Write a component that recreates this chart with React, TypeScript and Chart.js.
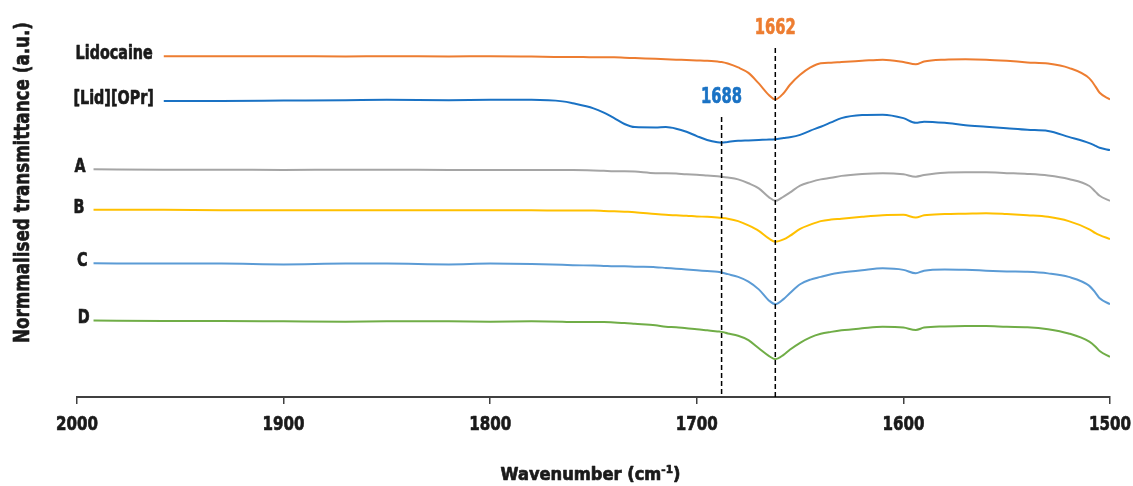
import React, { useEffect, useRef } from 'react';
import { Chart, registerables } from 'chart.js';

Chart.register(...registerables);

// Shared wavenumber grid (cm-1); series are null where a trace has not started yet.
const wavenumbers = [
  1992, 1958, 1930, 1900, 1870, 1850, 1820, 1800, 1780, 1765,
  1760, 1750, 1745, 1740, 1735, 1730, 1720, 1715, 1710, 1705,
  1700, 1695, 1690, 1688, 1685, 1680, 1675, 1670, 1665, 1662,
  1658, 1655, 1650, 1645, 1640, 1635, 1630, 1620, 1610, 1600,
  1594, 1590, 1580, 1570, 1560, 1550, 1540, 1530, 1520, 1510,
  1507, 1505, 1500,
];

// Stacked, normalised transmittance traces (a.u., offset for display)
const lidocaine = [
  null, 8.74, 8.74, 8.74, 8.73, 8.74, 8.73, 8.74, 8.73, 8.72,
  8.72, 8.71, 8.71, 8.71, 8.70, 8.69, 8.67, 8.66, 8.65, 8.64,
  8.63, 8.62, 8.60, 8.59, 8.55, 8.45, 8.31, 8.04, 7.74, 7.63,
  7.79, 8.00, 8.26, 8.45, 8.56, 8.57, 8.59, 8.62, 8.65, 8.59,
  8.53, 8.60, 8.65, 8.66, 8.65, 8.62, 8.58, 8.55, 8.44, 8.17,
  7.96, 7.80, 7.63,
];
const lidOPr = [
  null, 7.59, 7.59, 7.60, 7.61, 7.62, 7.61, 7.62, 7.62, 7.58,
  7.53, 7.40, 7.29, 7.15, 7.00, 6.92, 6.91, 6.92, 6.88, 6.80,
  6.69, 6.59, 6.53, 6.52, 6.54, 6.57, 6.58, 6.59, 6.60, 6.61,
  6.64, 6.66, 6.72, 6.83, 6.93, 7.04, 7.15, 7.23, 7.24, 7.15,
  7.03, 7.06, 7.03, 6.97, 6.93, 6.89, 6.85, 6.82, 6.67, 6.51,
  6.44, 6.39, 6.33,
];
const sampleA = [
  5.84, 5.83, 5.83, 5.82, 5.83, 5.83, 5.82, 5.82, 5.82, 5.82,
  5.82, 5.81, 5.80, 5.79, 5.79, 5.78, 5.74, 5.74, 5.73, 5.71,
  5.70, 5.68, 5.66, 5.65, 5.63, 5.58, 5.48, 5.35, 5.12, 5.03,
  5.14, 5.24, 5.42, 5.51, 5.58, 5.62, 5.67, 5.72, 5.74, 5.71,
  5.65, 5.69, 5.75, 5.76, 5.76, 5.74, 5.72, 5.68, 5.59, 5.41,
  5.26, 5.16, 5.03,
];
const sampleB = [
  4.80, 4.80, 4.79, 4.79, 4.79, 4.79, 4.79, 4.79, 4.79, 4.78,
  4.78, 4.78, 4.77, 4.76, 4.75, 4.74, 4.69, 4.67, 4.66, 4.65,
  4.63, 4.62, 4.60, 4.59, 4.57, 4.51, 4.40, 4.26, 4.06, 3.98,
  4.04, 4.13, 4.31, 4.42, 4.51, 4.55, 4.57, 4.62, 4.66, 4.67,
  4.60, 4.66, 4.69, 4.70, 4.71, 4.69, 4.66, 4.62, 4.51, 4.30,
  4.20, 4.15, 4.05,
];
const sampleC = [
  3.43, 3.42, 3.42, 3.40, 3.42, 3.42, 3.40, 3.42, 3.41, 3.39,
  3.38, 3.37, 3.36, 3.35, 3.35, 3.34, 3.33, 3.31, 3.29, 3.27,
  3.25, 3.23, 3.21, 3.19, 3.15, 3.08, 2.96, 2.76, 2.47, 2.38,
  2.51, 2.66, 2.89, 3.01, 3.08, 3.15, 3.19, 3.25, 3.30, 3.26,
  3.17, 3.24, 3.27, 3.26, 3.24, 3.22, 3.21, 3.17, 3.08, 2.85,
  2.67, 2.53, 2.38,
];
const sampleD = [
  1.96, 1.95, 1.95, 1.94, 1.93, 1.94, 1.94, 1.93, 1.94, 1.93,
  1.92, 1.92, 1.92, 1.91, 1.90, 1.88, 1.84, 1.80, 1.79, 1.76,
  1.74, 1.71, 1.68, 1.67, 1.63, 1.57, 1.46, 1.25, 1.05, 0.97,
  1.08, 1.21, 1.39, 1.53, 1.62, 1.67, 1.71, 1.76, 1.80, 1.78,
  1.72, 1.78, 1.81, 1.82, 1.82, 1.80, 1.79, 1.74, 1.63, 1.42,
  1.29, 1.18, 1.03,
];

const seriesNames = ['Lidocaine', '[Lid][OPr]', 'A', 'B', 'C', 'D'];
const seriesValues = [lidocaine, lidOPr, sampleA, sampleB, sampleC, sampleD];
const seriesColors = ['#ED7D31', '#1A72C4', '#A5A5A5', '#FFC000', '#5B9BD5', '#70AD47'];
const seriesLabelGaps = [11, 10, 8, 9, 6, 4];

// Band markers: wavenumber, top of the dashed guide (a.u.), tag colour
const markerWavenumbers = [1688, 1662];
const markerTops = [7.18, 8.95];
const markerColors = ['#1A72C4', '#ED7D31'];

// Axis settings
const xMin = 1500;
const xMax = 2000;
const xStep = 100;
const yMin = 0;
const yMax = 10;

const xTitle = 'Wavenumber (cm';
const xTitleSup = '-1';
const yTitle = 'Normmalised transmittance (a.u.)';

const FONT = "'DejaVu Sans', 'Liberation Sans', Arial, sans-serif";
const TEXT = '#1a1a1a';
const AXIS = '#404040';

// Horizontal squeeze that gives the bold face a condensed look
let condense = 0.76;
function calibrate(ctx: CanvasRenderingContext2D) {
  ctx.font = `bold 20px ${FONT}`;
  condense = 42 / ctx.measureText('1800').width;
}

// Fill plus a thin stroke of the same colour for a heavier weight
function heavyText(ctx: CanvasRenderingContext2D, text: string, x: number, y: number, color: string) {
  ctx.fillStyle = color;
  ctx.strokeStyle = color;
  ctx.lineWidth = 0.7;
  ctx.lineJoin = 'round';
  ctx.fillText(text, x, y);
  ctx.strokeText(text, x, y);
}

function drawText(
  ctx: CanvasRenderingContext2D,
  text: string,
  x: number,
  y: number,
  size: number,
  align: CanvasTextAlign,
  color: string,
  sx: number = condense,
) {
  ctx.save();
  ctx.font = `bold ${size}px ${FONT}`;
  ctx.textAlign = align;
  ctx.textBaseline = 'middle';
  ctx.translate(x, y);
  ctx.scale(sx, 1);
  heavyText(ctx, text, 0, 0, color);
  ctx.restore();
}

function widthAt(ctx: CanvasRenderingContext2D, text: string, size: number) {
  ctx.font = `bold ${size}px ${FONT}`;
  return ctx.measureText(text).width;
}

const textPlugin = {
  id: 'spectraText',
  afterDatasetsDraw(chart: any) {
    const ctx: CanvasRenderingContext2D = chart.ctx;
    const area = chart.chartArea;
    const xs = chart.scales.x;
    calibrate(ctx);

    // x tick labels
    xs.ticks.forEach((t: any) => {
      drawText(ctx, String(t.value), xs.getPixelForValue(t.value), area.bottom + 28, 20, 'center', TEXT);
    });

    // trace names and band tags
    chart.data.datasets.forEach((ds: any, i: number) => {
      const meta = chart.getDatasetMeta(i);
      if (ds.seriesLabel) {
        const first = meta.data.find((p: any) => !p.skip);
        if (first) drawText(ctx, ds.seriesLabel, first.x - ds.labelGap, first.y - 2, 19, 'right', TEXT);
      }
      if (ds.markerTag) {
        const top = meta.data[0];
        const sx = 41 / widthAt(ctx, ds.markerTag, 22);
        drawText(ctx, ds.markerTag, top.x, top.y - 20, 22, 'center', ds.tagColor, sx);
      }
    });

    // x-axis title with superscript
    const size = 17;
    const supSize = 11;
    const wMain = widthAt(ctx, xTitle, size);
    const wClose = widthAt(ctx, ')', size);
    const wSup = widthAt(ctx, xTitleSup, supSize);
    const sx = 180 / (wMain + wSup + wClose);
    const left = (area.left + area.right) / 2 - 90 - 3;
    ctx.save();
    ctx.translate(left, 480);
    ctx.scale(sx, 1);
    ctx.textAlign = 'left';
    ctx.textBaseline = 'alphabetic';
    ctx.font = `bold ${size}px ${FONT}`;
    heavyText(ctx, xTitle, 0, 0, TEXT);
    ctx.font = `bold ${supSize}px ${FONT}`;
    heavyText(ctx, xTitleSup, wMain, -7, TEXT);
    ctx.font = `bold ${size}px ${FONT}`;
    heavyText(ctx, ')', wMain + wSup, 0, TEXT);
    ctx.restore();

    // y-axis title, rotated
    const ySize = 22;
    const ySx = 321 / widthAt(ctx, yTitle, ySize);
    ctx.save();
    ctx.translate(23, 182.5);
    ctx.rotate(-Math.PI / 2);
    ctx.scale(ySx, 1);
    ctx.font = `bold ${ySize}px ${FONT}`;
    ctx.textAlign = 'center';
    ctx.textBaseline = 'middle';
    heavyText(ctx, yTitle, 0, 0, TEXT);
    ctx.restore();
  },
};

export default function App() {
  const ref = useRef<HTMLCanvasElement>(null);

  useEffect(() => {
    if (!ref.current) return;

    const markerSets = markerWavenumbers.map((w, i) => ({
      label: String(w),
      data: [
        { x: w, y: markerTops[i] },
        { x: w, y: yMin },
      ],
      borderColor: '#000000',
      borderWidth: 1.5,
      borderDash: [5, 3],
      pointRadius: 0,
      fill: false,
      markerTag: String(w),
      tagColor: markerColors[i],
    }));

    const traceSets = seriesNames.map((name, i) => ({
      label: name,
      data: wavenumbers.map((w, j) => ({ x: w, y: seriesValues[i][j] })),
      borderColor: seriesColors[i],
      borderWidth: 2,
      pointRadius: 0,
      fill: false,
      tension: 0.25,
      cubicInterpolationMode: 'monotone',
      seriesLabel: name,
      labelGap: seriesLabelGaps[i],
    }));

    const chart = new Chart(ref.current, {
      type: 'line',
      data: { datasets: [...markerSets, ...traceSets] as any },
      options: {
        animation: false,
        responsive: false,
        devicePixelRatio: 1,
        layout: { padding: { left: 77, right: 23, top: 7, bottom: 29 } },
        plugins: {
          legend: { display: false },
          tooltip: { enabled: false },
        },
        scales: {
          x: {
            type: 'linear',
            reverse: true,
            min: xMin,
            max: xMax,
            afterFit: (s: any) => {
              s.height = 60;
            },
            ticks: { display: false, stepSize: xStep, autoSkip: false },
            grid: {
              display: true,
              drawOnChartArea: false,
              drawTicks: true,
              tickLength: 7,
              color: AXIS,
              lineWidth: 1.5,
            },
            border: { display: true, color: AXIS, width: 2 },
          },
          y: { display: false, min: yMin, max: yMax },
        },
      } as any,
      plugins: [textPlugin],
    });

    return () => chart.destroy();
  }, []);

  return (
    <div style={{ position: 'absolute', left: 0, top: 0, width: 1133, height: 486, background: '#ffffff' }}>
      <canvas ref={ref} width={1133} height={486} style={{ display: 'block' }} />
    </div>
  );
}
